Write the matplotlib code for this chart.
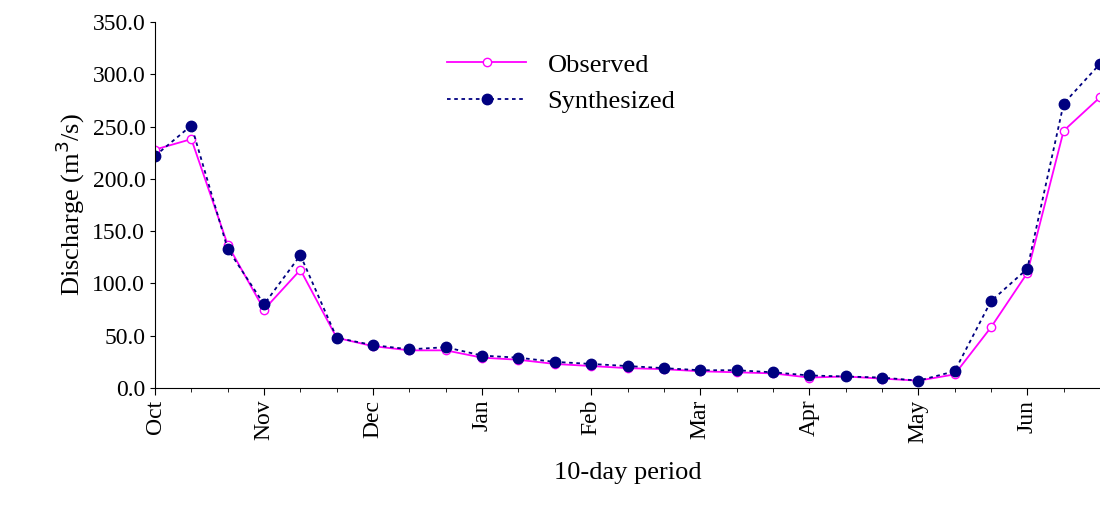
import matplotlib
matplotlib.use("Agg")
import matplotlib.pyplot as plt

plt.rcParams['font.family'] = ['Liberation Serif', 'DejaVu Serif']

months = ["Oct", "Nov", "Dec", "Jan", "Feb", "Mar", "Apr", "May", "Jun"]
observed = [228, 238, 137, 75, 113, 48, 40, 36, 36, 29, 27, 23, 21, 19, 18,
            16, 15, 14, 10, 11, 9, 7, 13, 58, 110, 246, 278]
synthesized = [222, 251, 133, 80, 127, 48, 41, 37, 39, 31, 29, 25, 23, 21, 19,
               17, 17, 15, 12, 11, 10, 7, 16, 83, 114, 272, 310]

x = list(range(len(observed)))

fig = plt.figure(figsize=(11, 5.14), dpi=100)
ax = fig.add_axes([155 / 1100, 1 - 388 / 514, 945 / 1100, 366 / 514])

ax.plot(x, observed, '-o', color='#ff00ff', lw=1.3, ms=6, mfc='white',
        mec='#ff00ff', label='Observed')
ax.plot(x, synthesized, 'o', color='#000080', ls=(0, (2, 2)), lw=1.3, ms=7.5,
        mfc='#000080', mec='#000080', label='Synthesized')

ax.set_xlim(0, len(x) - 1)
ax.set_ylim(0, 350)
ax.set_yticks(range(0, 351, 50))
ax.set_yticklabels([f"{v:.1f}" for v in range(0, 351, 50)], fontsize=17)
ax.set_xticks(x[::3])
ax.set_xticklabels(months, rotation=90, fontsize=17)
ax.tick_params(axis='x', length=5)
ax.set_xticks(x, minor=True)
ax.tick_params(axis='x', which='minor', length=3)
for s in ['top', 'right']:
    ax.spines[s].set_visible(False)

ax.set_ylabel(r"Discharge (m$^3$/s)", fontsize=19)
ax.set_xlabel("10-day period", fontsize=19, labelpad=14)

ax.legend(loc='upper center', bbox_to_anchor=(0.43, 0.98), frameon=False,
          fontsize=19, handlelength=3)

fig.savefig("out.png", dpi=100)
